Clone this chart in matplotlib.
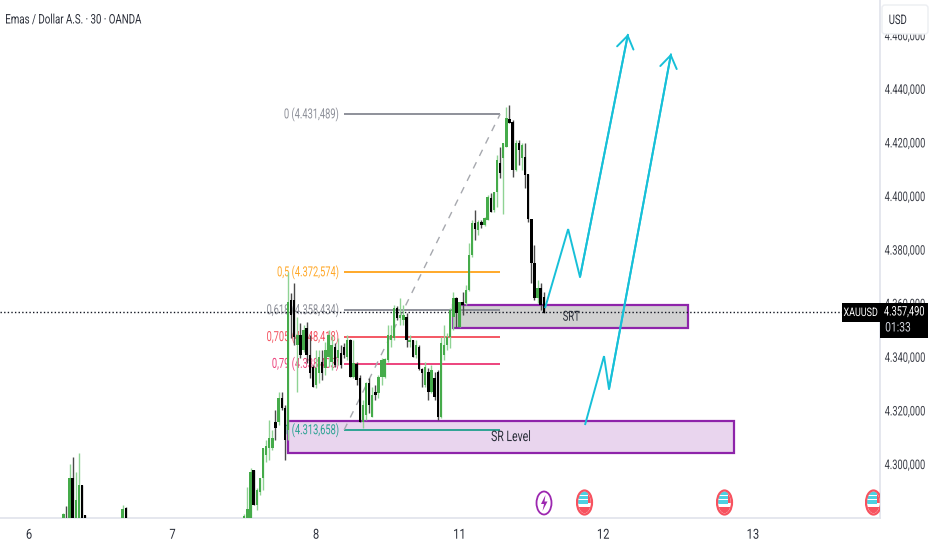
import numpy as np
import matplotlib
matplotlib.use("Agg")
import matplotlib.pyplot as plt
from matplotlib.patches import Rectangle, Ellipse, FancyBboxPatch, Polygon
from matplotlib.patheffects import AbstractPathEffect
from matplotlib.transforms import Affine2D, ScaledTranslation

plt.rcParams['font.family'] = ['Roboto', 'DejaVu Sans']

# --- candles: bar index, open, high, low, close ---
bar_index = [11,12,13,14,15,16,17,18,30,31] + list(range(69, 166))
highs = [4282.7,4285.3,4300.9,4303.6,4298.0,4305.0,4293.1,4281.9,4285.6,4284.9,
 4282.3,4292.4,4299.5,4298.7,4292.0,4295.7,4306.9,4309.9,4317.4,4313.6,4321.1,4327.8,4327.8,4322.9,
 4372.6,4364.7,4368.5,4355.8,4353.6,4352.8,4353.9,4349.1,4337.9,4343.5,4343.5,4343.5,4346.5,4350.9,4349.1,4346.1,4348.0,4345.4,4346.1,4349.1,
 4347.6,4347.2,4339.0,4334.2,4324.8,4331.5,4333.0,4329.7,4330.4,4334.2,4340.5,4340.5,4352.8,4352.8,4360.3,4359.9,4362.9,4360.3,4357.3,4349.1,
 4347.2,4347.2,4345.4,4336.8,4339.0,4336.8,4337.9,4335.3,4336.0,4348.3,4352.8,4349.8,4359.1,4365.1,4363.2,4361.4,4365.1,4367.7,4383.4,4392.0,
 4395.7,4392.0,4392.0,4393.1,4401.3,4402.1,4402.4,4416.2,4419.2,4420.7,4434.2,4434.9,4429.3,4421.8,4421.8,4420.7,4420.7,4409.1,4392.4,4382.7,
 4369.6,4368.5,4365.1]
tops = [4282.3,4278.0,4295.7,4295.7,4287.5,4293.1,4293.1,4281.9,4284.2,4284.5,
 4281.6,4284.2,4298.0,4298.7,4291.2,4295.7,4306.9,4307.7,4310.6,4310.6,4316.6,4325.6,4325.6,4321.8,
 4361.4,4362.1,4362.1,4349.1,4349.1,4350.9,4351.7,4341.6,4337.1,4336.8,4340.9,4339.0,4343.5,4349.1,4345.4,4344.6,4343.5,4342.4,4344.6,4347.2,
 4347.2,4338.6,4338.3,4333.0,4323.0,4331.2,4331.2,4326.7,4327.8,4333.4,4339.8,4340.2,4349.1,4349.1,4359.1,4359.1,4356.5,4356.5,4355.8,4347.2,
 4347.2,4345.4,4344.6,4336.4,4337.1,4335.3,4336.0,4333.0,4335.3,4346.1,4345.4,4348.3,4358.4,4362.9,4362.9,4361.4,4361.4,4365.9,4378.9,4390.9,
 4390.9,4391.2,4391.2,4392.7,4400.6,4400.2,4402.4,4414.4,4413.2,4420.7,4430.0,4429.7,4428.6,4420.7,4420.7,4420.0,4415.5,4409.1,4392.4,4376.0,
 4366.6,4366.6,4363.3]
bottoms = [4278.0,4278.0,4278.0,4278.0,4278.0,4278.0,4278.0,4278.0,4278.0,4278.0,
 4278.0,4278.0,4278.0,4285.6,4285.6,4290.5,4295.7,4304.3,4306.9,4306.9,4314.4,4316.6,4321.8,4309.9,
 4313.6,4356.5,4348.3,4345.4,4341.6,4343.5,4341.6,4334.9,4329.7,4330.4,4334.9,4334.9,4336.8,4340.9,4339.0,4337.9,4340.5,4337.9,4341.6,4340.9,
 4333.4,4333.4,4332.3,4316.6,4316.6,4319.2,4323.0,4318.5,4326.7,4327.4,4333.4,4333.4,4339.8,4347.2,4347.9,4355.4,4355.4,4354.7,4347.2,4346.5,
 4340.9,4341.6,4336.4,4334.9,4330.4,4327.8,4327.8,4325.9,4318.5,4318.5,4341.6,4345.4,4348.3,4355.8,4357.3,4352.1,4360.3,4361.0,4365.9,4378.9,
 4388.6,4388.3,4390.1,4390.1,4392.0,4395.0,4395.7,4402.4,4409.5,4415.1,4419.2,4428.2,4410.6,4410.6,4418.1,4415.1,4408.8,4392.4,4376.0,4362.9,
 4362.9,4360.3,4357.3]
lows = [4278.0,4278.0,4278.0,4278.0,4278.0,4278.0,4278.0,4278.0,4278.0,4278.0,
 4278.0,4278.0,4278.0,4285.6,4283.8,4289.4,4291.2,4301.7,4302.4,4306.2,4309.9,4315.5,4321.1,4302.4,
 4309.9,4347.9,4345.4,4327.8,4340.5,4342.7,4338.6,4333.0,4329.7,4329.3,4331.2,4332.3,4334.2,4337.1,4336.0,4337.1,4337.9,4336.8,4340.5,4339.8,
 4333.4,4333.0,4330.4,4316.6,4314.4,4317.4,4320.0,4318.5,4324.8,4325.6,4330.4,4333.0,4339.0,4344.6,4347.2,4354.7,4352.8,4352.8,4344.6,4344.6,
 4340.9,4340.5,4336.0,4329.7,4329.7,4324.8,4327.4,4324.8,4317.4,4318.1,4339.8,4343.5,4344.2,4350.9,4352.1,4352.1,4356.5,4360.3,4365.5,4378.2,
 4384.5,4386.4,4389.0,4389.7,4392.0,4395.0,4395.0,4396.8,4407.6,4394.2,4419.2,4428.2,4408.0,4410.3,4412.5,4410.6,4403.9,4391.2,4368.5,4362.1,
 4361.0,4358.4,4357.3]
is_up = [1,0,1,0,1,1,0,0,1,0,
 1,1,1,0,1,1,1,1,1,1,0,1,0,0,
 1,0,0,1,0,1,0,0,0,1,1,0,1,1,1,0,1,0,0,1,
 0,1,0,0,1,1,0,1,0,1,1,1,1,1,1,0,1,1,0,1,
 0,1,0,0,1,0,1,0,0,1,1,1,1,1,0,1,0,1,1,1,
 0,1,0,1,1,0,1,1,0,1,1,0,0,1,0,1,0,0,0,0,
 1,0,0]

# --- fibonacci levels ---
fib_labels = ["0 (4.431,489)", "0,5 (4.372,574)", "0,618 (4.358,434)", "0,705 (4.348,418)", "0,79 (4.338,403)", "1 (4.313,658)"]
fib_prices = [4431.489, 4372.574, 4358.434, 4348.418, 4338.403, 4313.658]
fib_colors = ["#787b86", "#ff9800", "#787b86", "#f23645", "#e91e63", "#089981"]
fib_start, fib_end = 101, 151

# --- zones ---
srt_zone = (135.9, 211.2, 4351.7, 4360.3)
sr_zone = (83.0, 226.0, 4305.1, 4317.0)

# --- projected paths ---
path1_x = [165.4, 172.8, 176.6, 192.0]
path1_y = [4359.1, 4388.6, 4370.7, 4461.4]
path2_x = [178.2, 184.3, 185.9, 205.8]
path2_y = [4315.5, 4341.2, 4328.9, 4454.1]

# --- axes labels ---
day_ticks = [0, 46, 92, 138, 184, 232]
day_labels = ["6", "7", "8", "11", "12", "13"]
price_ticks = [4300, 4320, 4340, 4360, 4380, 4400, 4420, 4440, 4460]
price_labels = ["4.300,000", "4.320,000", "4.340,000", "4.360,000", "4.380,000", "4.400,000", "4.420,000", "4.440,000", "4.460,000"]
last_price = 4357.49


class Squeeze(AbstractPathEffect):
    """Draw a text horizontally condensed about its left, right or centre."""
    def __init__(self, sx, anchor="left"):
        super().__init__()
        self.sx, self.anchor = sx, anchor

    def draw_path(self, renderer, gc, tpath, affine, rgbFace=None):
        e = tpath.get_extents(affine)
        a = {"left": e.x0, "right": e.x1, "center": (e.x0 + e.x1) / 2}[self.anchor]
        t = affine + Affine2D().translate(-a, 0).scale(self.sx, 1).translate(a, 0)
        renderer.draw_path(gc, tpath, t, rgbFace)


def condense(txt, sx, anchor="left"):
    txt.set_path_effects([Squeeze(sx, anchor)])
    return txt


W, H = 932, 550
fig = plt.figure(figsize=(W/100, H/100), dpi=100, facecolor="white")
ax = fig.add_axes([0, (H-518)/H, 880/W, 518/H])
ax.set_xlim((0-29)/3.12, (880-29)/3.12)
ax.set_ylim(4280.8, 4474.07)
for s in ["top", "left"]:
    ax.spines[s].set_visible(False)
for s in ["right", "bottom"]:
    ax.spines[s].set_color("#e0e3eb")
    ax.spines[s].set_linewidth(1.2)
ax.yaxis.tick_right()
ax.set_yticks(price_ticks, price_labels)
ax.set_xticks(day_ticks, day_labels)
ax.tick_params(axis="y", length=0, pad=33, labelsize=9.5, labelcolor="#3a3d46")
ax.tick_params(axis="x", length=0, pad=7, labelsize=10, labelcolor="#2a2e39")
for lab in ax.get_yticklabels():
    lab.set_horizontalalignment("right")
    condense(lab, 0.70, "right")
    lab.set_transform(lab.get_transform() + ScaledTranslation(0, 2.5/100, fig.dpi_scale_trans))
for lab in ax.get_xticklabels():
    condense(lab, 0.8, "center")

x = np.array(bar_index, float)
up = np.array(is_up, bool)
hi, lo = np.array(highs), np.array(lows)
tp, bt = np.array(tops), np.array(bottoms)

# zones under candles
for (x0, x1, y0, y1), fc in [(srt_zone, "#d1d1d1"), (sr_zone, "#e9d5ee")]:
    ax.add_patch(Rectangle((x0, y0), x1-x0, y1-y0, fc=fc, ec="#8e24aa", lw=1.6, zorder=1))
condense(ax.text((srt_zone[0]+srt_zone[1])/2+0.2, 4355.9, "SRT", ha="center", va="center", fontsize=10,
                 color="#2a2e39", zorder=6), 0.68, "center")
condense(ax.text(154.5, 4311.0, "SR Level", ha="center", va="center", fontsize=10.5,
                 color="#2a2e39", zorder=6), 0.72, "center")

# fib
for lab, p, c in zip(fib_labels, fib_prices, fib_colors):
    ax.plot([fib_start, fib_end], [p, p], color=c, lw=1.3, alpha=0.9, zorder=2, solid_capstyle="butt")
    condense(ax.text(fib_start-1.6, p, lab, color=c, ha="right", va="center", fontsize=10, alpha=0.85, zorder=2),
             0.67, "right")
ax.plot([fib_start, fib_end], [fib_prices[-1], fib_prices[0]], color="#a6a8ae", lw=1, ls=(0, (5, 5)), zorder=2)

# last price
ax.axhline(last_price, color="#131722", lw=1, ls=(0, (1, 1.6)), zorder=3)

# candles
ax.vlines(x[up], lo[up], hi[up], color="#8fd394", lw=1, zorder=4)
ax.vlines(x[~up], lo[~up], hi[~up], color="#4a4a4a", lw=1, zorder=4)
ax.bar(x[up], (tp-bt)[up], bottom=bt[up], width=0.78, color="#45ab4a", lw=0, zorder=5)
ax.bar(x[~up], (tp-bt)[~up], bottom=bt[~up], width=0.78, color="#000000", lw=0, zorder=5)

# paths
for px_, py_ in [(path1_x, path1_y), (path2_x, path2_y)]:
    ax.plot(px_, py_, color="#17c0d8", lw=1.4, zorder=7, solid_joinstyle="miter", solid_capstyle="butt")
    ax.annotate("", xy=(px_[-1], py_[-1]), xytext=(px_[-2], py_[-2]),
                arrowprops=dict(arrowstyle="->,head_length=0.9,head_width=0.6", color="#17c0d8", lw=1.4, shrinkA=0, shrinkB=0), zorder=7)

# overlay in pixels
ov = fig.add_axes([0, 0, 1, 1], facecolor="none")
ov.set_xlim(0, W); ov.set_ylim(H, 0); ov.axis("off")

condense(ov.text(5, 20, "Emas / Dollar A.S. · 30 · OANDA", fontsize=9.5, color="#2a2e39", ha="left", va="center"),
         0.735, "left")

# USD box
ov.add_patch(FancyBboxPatch((882, 5), 46, 29, boxstyle="round,pad=0,rounding_size=3", fc="white", ec="#eceef2", lw=1, zorder=5))
condense(ov.text(888.5, 20.5, "USD", fontsize=9.5, color="#2a2e39", ha="left", va="center", zorder=6), 0.72, "left")

# price labels
ov.add_patch(Rectangle((842, 303), 37.5, 19, fc="black", ec="none", zorder=5))
condense(ov.text(860.5, 312.5, "XAUUSD", color="white", fontsize=8.5, ha="center", va="center", zorder=6), 0.76, "center")
ov.add_patch(Rectangle((880, 303), 48, 35, fc="black", ec="none", zorder=5))
condense(ov.text(925, 312, "4.357,490", color="white", fontsize=9.5, ha="right", va="center", zorder=6), 0.70, "right")
condense(ov.text(885, 328, "01:33", color="#d1d4dc", fontsize=9.5, ha="left", va="center", zorder=6), 0.78, "left")

# events
ov.add_patch(Ellipse((544, 503), 15, 23, fc="white", ec="#9c27b0", lw=1.3, zorder=5))
ov.add_patch(Polygon([(545.5, 495), (541, 504), (544, 504), (542.5, 511), (547.5, 501.5), (544.5, 501.5)],
                     fc="#9c27b0", ec="none", zorder=6))
for cx in [584.5, 724.5, 873.5]:
    right = min(cx + 9, 880)
    outer = Rectangle((cx-9, 488), right-(cx-9), 30, transform=ov.transData)
    e = Ellipse((cx, 502.5), 15, 24, fc="white", ec="#f7525f", lw=1.6, zorder=7)
    ov.add_patch(e)
    e.set_clip_path(outer)
    ix0, ix1 = cx-7, min(cx+7, 880)
    shape = Ellipse((cx, 502.5), 12.5, 21.5, transform=ov.transData)
    for (rx, ry, rw, rh, c) in [(ix0, 491, ix1-ix0, 6, "#f7525f"), (ix0, 497, ix1-ix0, 6, "#f7525f"),
                                (ix0, 507, ix1-ix0, 8, "#f7525f"),
                                (ix0, 491, min(10, ix1-ix0), 13, "#4dd0e1"),
                                (ix0, 495, min(10, ix1-ix0), 0.9, "white"),
                                (ix0, 499, min(10, ix1-ix0), 0.9, "white")]:
        r = Rectangle((rx, ry), rw, rh, fc=c, ec="none", zorder=8)
        ov.add_patch(r)
        r.set_clip_path(shape)

fig.savefig("out.png", dpi=100)
